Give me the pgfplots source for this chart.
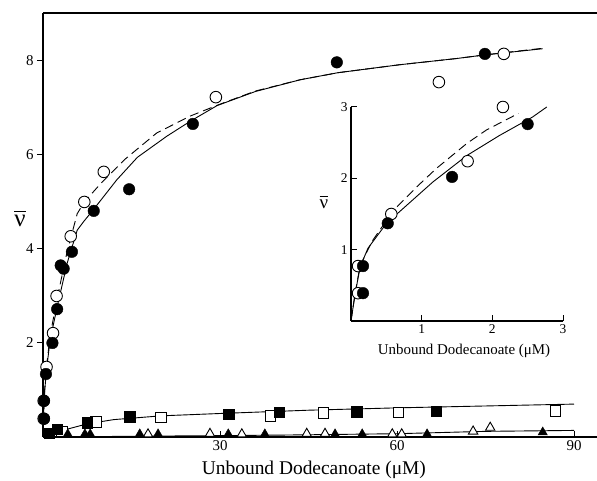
\documentclass[border=0pt]{standalone}
\usepackage{fontspec}
\setmainfont{Liberation Serif}
\usepackage{pgfplots}
\pgfplotsset{compat=1.18}

\pgfplotsset{
  opencirc/.style={only marks, mark=*, mark size=5.8bp, mark options={fill=white, draw=black, line width=0.9bp}},
  fullcirc/.style={only marks, mark=*, mark size=5.8bp, mark options={fill=black, draw=black}},
  opensq/.style={only marks, mark=square*, mark size=5.2bp, mark options={fill=white, draw=black, line width=0.9bp}},
  fullsq/.style={only marks, mark=square*, mark size=5.2bp, mark options={fill=black, draw=black}},
  opentri/.style={only marks, mark=triangle*, mark size=5.4bp, mark options={fill=white, draw=black, line width=0.9bp}},
  fulltri/.style={only marks, mark=triangle*, mark size=5.4bp, mark options={fill=black, draw=black}},
  fitline/.style={no marks, black, line width=0.9bp},
  fitdash/.style={no marks, black, line width=0.9bp, dash pattern=on 9bp off 5bp},
}
% nu with a bar drawn as a rule, a little above the letter
\newcommand{\nubar}{$\overline{\mbox{ν}\vphantom{\mbox{t}}}$}

\begin{document}
\begin{tikzpicture}
\useasboundingbox (0,0) rectangle (597bp,481bp);

% main panel
\begin{axis}[
  at={(43bp,44bp)}, anchor=south west,
  scale only axis, width=554bp, height=424bp,
  xmin=0, xmax=93.9, ymin=0, ymax=9.02,
  axis x line*=box, axis y line*=left,
  xtick={30,60,90}, ytick={2,4,6,8},
  xtick pos=bottom, ytick pos=left,
  xtick align=inside, ytick align=outside,
  major tick length=6bp,
  axis line style={line width=1.1bp, black},
  tick style={line width=1bp, black},
  /pgf/number format/assume math mode=true,
  ticklabel style={font=\fontsize{15}{17}\selectfont},
  clip mode=individual,
]
% binding curves, circles
\addplot[fitline] coordinates {
 (0,0) (0.1,0.5) (0.3,1.0) (0.6,1.43) (1.2,2.06) (2.4,2.77) (4.1,3.7)
 (5.8,4.4) (7,4.6) (8.5,4.83) (12.5,5.47) (16,5.95) (21,6.4) (25,6.72)
 (29.5,7.05) (36,7.35) (43.6,7.6) (50,7.75) (60.5,7.92) (70,8.05)
 (75,8.13) (84.7,8.26)};
\addplot[fitdash] coordinates {
 (0,0) (0.1,0.5) (0.3,1.05) (0.6,1.5) (1.2,2.15) (2.4,2.95) (4.1,3.95)
 (5.8,4.75) (7,5.0) (9.7,5.38) (14,5.92) (19.3,6.47) (25,6.83) (30,7.08)
 (36,7.36) (43.6,7.6) (50,7.75) (60.5,7.92) (70,8.05) (75,8.13) (84.7,8.27)};
% squares and triangles
\addplot[fitline] coordinates {
 (1,0.05) (3,0.13) (7.5,0.28) (12,0.37) (20,0.45) (30,0.5) (45,0.57)
 (60,0.62) (75,0.66) (90,0.70)};
\addplot[fitline] coordinates {
 (0,0) (20,0.02) (40,0.04) (60,0.07) (75,0.12) (90,0.14)};

\addplot[opencirc] coordinates {
 (0.11,0.77) (0.11,0.39) (0.6,1.49) (1.7,2.21) (2.3,3.0) (4.7,4.27)
 (7.0,5.0) (10.3,5.64) (29.3,7.23) (67.1,7.55) (78.1,8.15)};
\addplot[fullcirc] coordinates {
 (0.18,0.77) (0.18,0.39) (0.5,1.34) (1.6,2.0) (2.4,2.72) (3.0,3.65)
 (3.5,3.58) (4.9,3.94) (8.6,4.81) (14.6,5.27) (25.4,6.66) (49.8,7.97)
 (74.9,8.15)};

\addplot[opensq] coordinates {
 (3.2,0.12) (9.0,0.32) (20.0,0.42) (38.6,0.45) (47.5,0.51) (60.2,0.52)
 (86.9,0.55)};
\addplot[fullsq] coordinates {
 (1.0,0.08) (2.4,0.16) (7.5,0.30) (14.7,0.43) (31.5,0.49) (40.0,0.53)
 (53.2,0.54) (66.6,0.55)};

\addplot[opentri] coordinates {
 (17.8,0.06) (28.3,0.07) (33.7,0.06) (44.7,0.07) (47.8,0.07) (59.2,0.06)
 (60.8,0.06) (72.9,0.12) (75.8,0.2)};
\addplot[fulltri] coordinates {
 (4.2,0.06) (7.1,0.06) (8.0,0.06) (16.4,0.06) (19.5,0.06) (31.4,0.06)
 (37.6,0.06) (49.5,0.06) (54.1,0.06) (65.1,0.06) (84.7,0.1)};

\node[font=\fontsize{19.5}{22}\selectfont] at (axis description cs:0.489,-0.078)
  {Unbound Dodecanoate (μM)};
\node[font=\fontsize{25}{27}\selectfont] at (axis description cs:-0.0415,0.515)
  {\nubar};
\end{axis}

% inset
\begin{axis}[
  at={(351bp,160bp)}, anchor=south west,
  scale only axis, width=212bp, height=214bp,
  xmin=0, xmax=3, ymin=0, ymax=3,
  axis x line*=bottom, axis y line*=left,
  xtick={1,2,3}, ytick={1,2,3},
  tick align=inside, major tick length=6bp,
  axis line style={line width=1.1bp, black},
  tick style={line width=1bp, black},
  /pgf/number format/assume math mode=true,
  ticklabel style={font=\fontsize{13.5}{15}\selectfont},
  clip mode=individual,
]
\addplot[fitline] coordinates {
 (0,0) (0.06,0.39) (0.13,0.76) (0.24,1.02) (0.45,1.30) (0.65,1.50)
 (1.16,1.95) (1.64,2.32) (2.1,2.6) (2.57,2.86) (2.77,3.0)};
\addplot[fitdash] coordinates {
 (0,0) (0.06,0.4) (0.13,0.78) (0.3,1.12) (0.6,1.55) (0.93,1.88)
 (1.21,2.14) (1.64,2.49) (1.92,2.68) (2.37,2.91)};
\addplot[opencirc] coordinates {
 (0.10,0.77) (0.10,0.39) (0.57,1.50) (1.65,2.24) (2.15,3.0)};
\addplot[fullcirc] coordinates {
 (0.17,0.77) (0.17,0.39) (0.52,1.37) (1.43,2.02) (2.50,2.76)};

\node[font=\fontsize{15}{17}\selectfont] at (axis description cs:0.533,-0.14)
  {Unbound Dodecanoate (μM)};
\node[font=\fontsize{19}{21}\selectfont, inner sep=0pt] at (axis description cs:-0.128,0.555)
  {\nubar};
\end{axis}
\end{tikzpicture}
\end{document}
